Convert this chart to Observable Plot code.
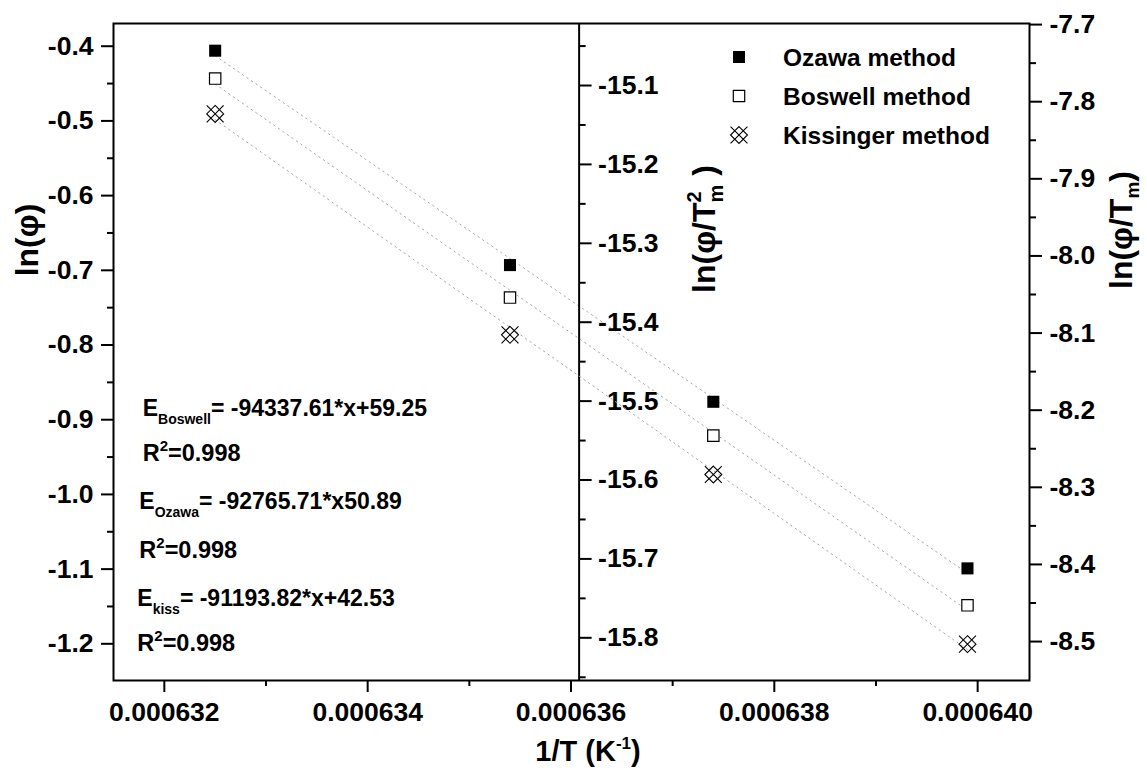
<!DOCTYPE html>
<html><head><meta charset="utf-8">
<script src="https://cdn.jsdelivr.net/npm/d3@7"></script>
<script src="https://cdn.jsdelivr.net/npm/@observablehq/plot@0.6"></script>
<style>
body{margin:0;background:#fff;}
#chart{position:relative;width:1147px;height:771px;background:#fff;}
#chart svg{position:absolute;left:0;top:0;}
#chart svg text{font-weight:bold;}
</style></head><body><div id="chart"></div>
<script>
// ---- data ----
const invT = [0.0006325, 0.0006354, 0.0006374, 0.0006399];      // 1/T (K^-1)
const ozawa = [-0.406, -0.693, -0.876, -1.099];                  // ln(phi), left axis
const kissinger = [-15.136, -15.416, -15.593, -15.808];          // ln(phi/Tm^2), middle axis
const boswell = [-7.770, -8.054, -8.233, -8.453];                // ln(phi/Tm), right axis

const xTicks = [0.000632, 0.000634, 0.000636, 0.000638, 0.000640];
const xMinor = [0.000633, 0.000635, 0.000637, 0.000639];
const leftTicks = [-0.4, -0.5, -0.6, -0.7, -0.8, -0.9, -1.0, -1.1, -1.2];
const leftMinor = [-0.45, -0.55, -0.65, -0.75, -0.85, -0.95, -1.05, -1.15];
const midTicks = [-15.1, -15.2, -15.3, -15.4, -15.5, -15.6, -15.7, -15.8];
const midMinor = [-15.05, -15.15, -15.25, -15.35, -15.45, -15.55, -15.65, -15.75, -15.85];
const rightTicks = [-7.7, -7.8, -7.9, -8.0, -8.1, -8.2, -8.3, -8.4, -8.5];
const rightMinor = [-7.75, -7.85, -7.95, -8.05, -8.15, -8.25, -8.35, -8.45];

const xDomain = [0.00063150, 0.00064051];
const leftDomain = [-1.2491, -0.3696];
const midDomain = [-15.8541, -15.0214];
const rightDomain = [-8.5505, -7.6986];
const midAxisX = 0.00063608; // where the middle axis stands

const legendItems = ["Ozawa method", "Boswell method", "Kissinger method"];

// ---- layout ----
const W = 1147, H = 771, mT = 23, mB = 91, mL = 113, mR = 118;
const FONT = "'Liberation Sans', Arial, Helvetica, sans-serif";
const style = {fontFamily: FONT, fontWeight: "bold", background: "transparent", color: "#000", overflow: "visible"};
const fmt1 = d => d.toFixed(1);
const tickText = {fontSize: 26.5, fontWeight: "bold"};

// X lattice with inscribed diamond (hatched diamond marker)
const hatchDiamond = {
  draw(ctx, size) {
    const k = Math.sqrt(size / Math.PI) * 0.92;
    ctx.moveTo(-k, -k); ctx.lineTo(k, k);
    ctx.moveTo(-k, k); ctx.lineTo(k, -k);
    ctx.moveTo(0, -k); ctx.lineTo(k, 0); ctx.lineTo(0, k); ctx.lineTo(-k, 0); ctx.closePath();
  }
};

const ozData = invT.map((x, i) => ({x, y: ozawa[i]}));
const kiData = invT.map((x, i) => ({x, y: kissinger[i]}));
const boData = invT.map((x, i) => ({x, y: boswell[i]}));
const fitStyle = {x: "x", y: "y", stroke: "#a8a8a8", strokeWidth: 1, strokeDasharray: "1.5,4", ci: 0};

const base = Plot.plot({
  width: W, height: H, marginTop: mT, marginBottom: mB, marginLeft: mL, marginRight: mR,
  style, x: {domain: xDomain}, y: {domain: leftDomain},
  marks: [
    Plot.axisX(xTicks, {...tickText, tickSize: 12, tickPadding: 10, tickFormat: d => d.toFixed(6), strokeWidth: 2, label: null}),
    Plot.axisX(xMinor, {tickSize: 6, tickFormat: () => "", strokeWidth: 2, label: null}),
    Plot.axisY(leftTicks, {...tickText, tickSize: 12, tickPadding: 8, tickFormat: fmt1, strokeWidth: 2, label: null}),
    Plot.axisY(leftMinor, {tickSize: 6, tickFormat: () => "", strokeWidth: 2, label: null}),
    Plot.frame({stroke: "#000", strokeWidth: 2}),
    Plot.linearRegressionY(ozData, fitStyle),
    Plot.dot(ozData, {x: "x", y: "y", symbol: "square", r: 6.8, fill: "#000"})
  ]
});

const plotW = W - mL - mR;
const midPx = mL + (midAxisX - xDomain[0]) / (xDomain[1] - xDomain[0]) * plotW;
const mid = Plot.plot({
  width: W, height: H, marginTop: mT, marginBottom: mB, marginLeft: mL, marginRight: W - midPx,
  style, x: {domain: [xDomain[0], midAxisX], axis: null}, y: {domain: midDomain, axis: null},
  marks: [
    Plot.ruleX([midAxisX], {stroke: "#000", strokeWidth: 2}),
    Plot.axisY(midTicks, {...tickText, anchor: "right", tickSize: 12, tickPadding: 7, tickFormat: fmt1, strokeWidth: 2, label: null}),
    Plot.axisY(midMinor, {anchor: "right", tickSize: 6, tickFormat: () => "", strokeWidth: 2, label: null}),
    Plot.linearRegressionY(kiData, fitStyle),
    Plot.dot(kiData, {x: "x", y: "y", symbol: hatchDiamond, r: 9.2, stroke: "#000", strokeWidth: 1.1, fill: "none"})
  ]
});

const right = Plot.plot({
  width: W, height: H, marginTop: mT, marginBottom: mB, marginLeft: mL, marginRight: mR,
  style, x: {domain: xDomain, axis: null}, y: {domain: rightDomain, axis: null},
  marks: [
    Plot.axisY(rightTicks, {...tickText, anchor: "right", tickSize: 12, tickPadding: 8, tickFormat: fmt1, strokeWidth: 2, label: null}),
    Plot.axisY(rightMinor, {anchor: "right", tickSize: 6, tickFormat: () => "", strokeWidth: 2, label: null}),
    Plot.linearRegressionY(boData, fitStyle),
    Plot.dot(boData, {x: "x", y: "y", symbol: "square", r: 6.4, fill: "#fff", stroke: "#000", strokeWidth: 1.2})
  ]
});

const chart = document.getElementById("chart");
chart.append(base, mid, right);

// ---- text overlay: titles, annotations, legend ----
const svg = d3.select(chart).append("svg").attr("width", W).attr("height", H)
  .style("font-family", FONT).style("font-weight", "bold").style("overflow", "visible");

function rich(g, x, y, parts, size, opts = {}) {
  const t = g.append("text").attr("x", x).attr("y", y).attr("font-size", size)
    .attr("text-anchor", opts.anchor || "start");
  if (opts.rotate) t.attr("transform", `rotate(${opts.rotate},${x},${y})`);
  let shift = 0;
  for (const p of parts) {
    const s = t.append("tspan").text(p.t);
    if (p.fs) s.attr("font-size", p.fs);
    const target = p.shift || 0;
    s.attr("dy", target - shift);
    shift = target;
    if (p.dx) s.attr("dx", p.dx);
  }
  return t;
}

// axis titles
rich(svg, 38, 240, [{t: "ln(φ)"}], 32, {anchor: "middle", rotate: -90});
rich(svg, 715, 229, [{t: "ln(φ/T"}, {t: "2", fs: 20, shift: -14}, {t: "m", fs: 20, shift: 8, dx: -11}, {t: "  )", shift: 0}], 32, {anchor: "middle", rotate: -90});
rich(svg, 1132, 230, [{t: "ln(φ/T"}, {t: "m", fs: 19, shift: 7}, {t: ")", shift: 0}], 32, {anchor: "middle", rotate: -90});
rich(svg, 588, 761, [{t: "1/T (K"}, {t: "-1", fs: 17, shift: -12}, {t: ")", shift: 0}], 29, {anchor: "middle"});

// fit annotations
const eqs = [
  {x: 142.7, y: 416, sub: "Boswell", rest: "= -94337.61*x+59.25"},
  {x: 139.3, y: 509, sub: "Ozawa", rest: "= -92765.71*x50.89"},
  {x: 137.3, y: 606, sub: "kiss", rest: "= -91193.82*x+42.53"}
];
const r2y = [461, 557.7, 651];
eqs.forEach((e, i) => {
  rich(svg, e.x, e.y, [{t: "E"}, {t: e.sub, fs: 14, shift: 8}, {t: e.rest, shift: 0}], 23);
  rich(svg, e.x, r2y[i], [{t: "R"}, {t: "2", fs: 15, shift: -10}, {t: "=0.998", shift: 0}], 23.5);
});

// legend
const legY = [57, 96, 135];
const legSym = [
  d3.symbol(d3.symbolSquare, 12 * 12)(),
  d3.symbol(d3.symbolSquare, 11.4 * 11.4)(),
  d3.symbol(hatchDiamond, Math.PI * 9.2 * 9.2)()
];
const legStyle = [
  {fill: "#000", stroke: "none", sw: 0},
  {fill: "#fff", stroke: "#000", sw: 1.2},
  {fill: "none", stroke: "#000", sw: 1.1}
];
legendItems.forEach((name, i) => {
  svg.append("path").attr("d", legSym[i]).attr("transform", `translate(739,${legY[i]})`)
    .attr("fill", legStyle[i].fill).attr("stroke", legStyle[i].stroke).attr("stroke-width", legStyle[i].sw);
  svg.append("text").attr("x", 783).attr("y", legY[i] + 8.8).attr("font-size", 24.5).text(name);
});
</script></body></html>
